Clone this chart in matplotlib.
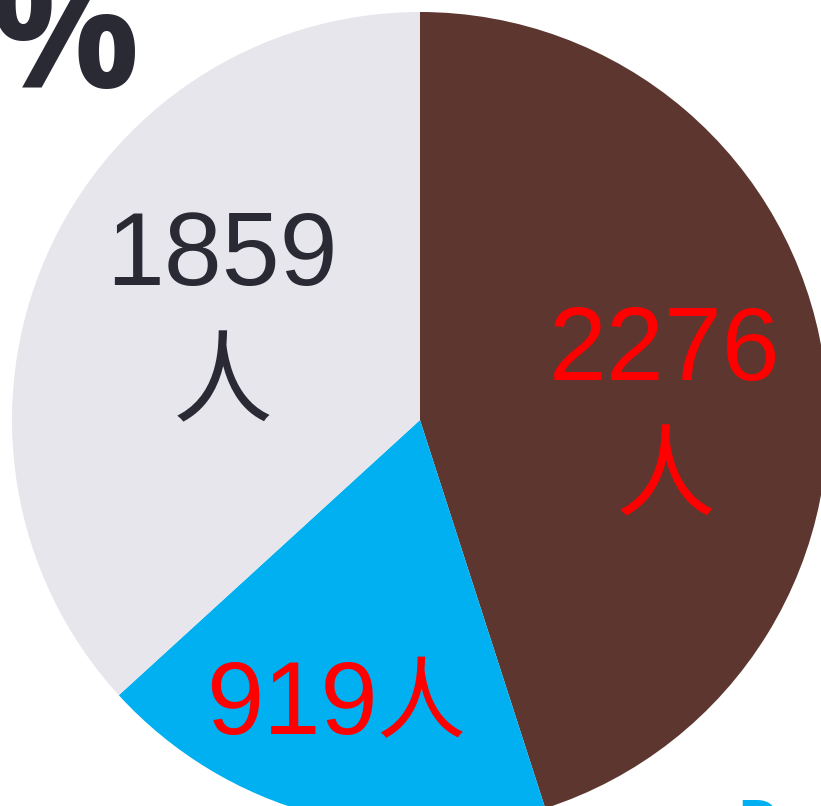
import matplotlib
matplotlib.use("Agg")
import matplotlib.pyplot as plt

# data
numbers = ["2276", "919", "1859"]
unit = "人"
values = [2276, 919, 1859]
colors = ["#5C362F", "#00B0F0", "#E7E6EC"]
label_colors = ["#FF0000", "#FF0000", "#2A2A35"]

W, H = 821, 806
fig = plt.figure(figsize=(W / 100, H / 100), dpi=100)
ax = fig.add_axes([0, 0, 1, 1])

ax.pie(values, colors=colors, startangle=90, counterclock=False,
       radius=408, center=(420, H - 420), frame=True,
       wedgeprops=dict(linewidth=0))

num_font = ["Liberation Sans", "DejaVu Sans"]
cjk_font = ["Noto Sans CJK SC", "DejaVu Sans"]

# stacked labels: number on top, 人 below (pixel coords from top)
# (number x, number baseline, unit centre y)
stacked = {0: (665, 380, 480), 2: (222, 285, 386)}
for i, (x, base, uy) in stacked.items():
    ax.text(x, H - base, numbers[i], color=label_colors[i], fontsize=75,
            ha="center", va="baseline", family=num_font)
    ax.text(x + 1, H - uy, unit, color=label_colors[i], fontsize=72,
            ha="center", va="center", family=cjk_font)

# inline label in the blue slice
ax.text(378, H - 734, numbers[1], color=label_colors[1], fontsize=74,
        ha="right", va="baseline", family=num_font)
ax.text(421, H - 706, unit, color=label_colors[1], fontsize=64,
        ha="center", va="center", family=cjk_font)

# cropped title / legend fragments
ax.text(140, H - 88, "%", color="#2A2A35", fontsize=120, fontweight="bold",
        ha="right", va="baseline", family=["Open Sans", "DejaVu Sans"])
ax.text(738, H - 798, "D", color="#00B0F0", fontsize=40, fontweight="bold",
        ha="left", va="top", family=["Liberation Sans", "DejaVu Sans"])

ax.set_xlim(0, W)
ax.set_ylim(0, H)
ax.set_aspect("equal")
ax.axis("off")

fig.savefig("out.png", dpi=100)
